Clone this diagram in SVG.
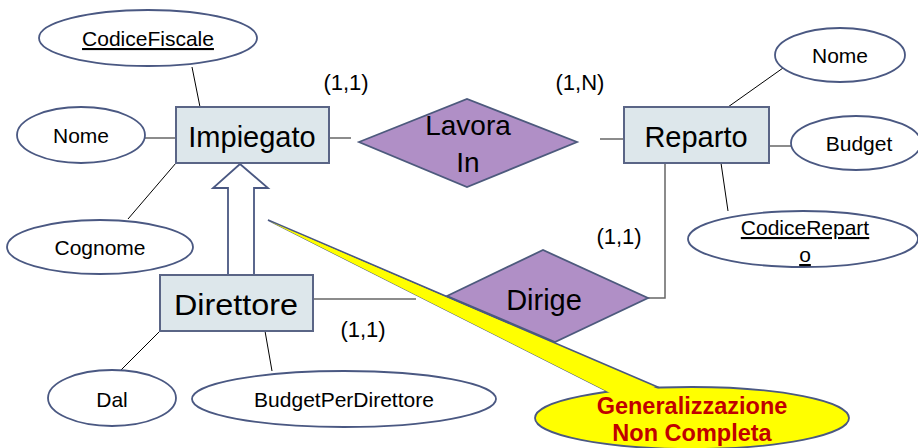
<svg xmlns="http://www.w3.org/2000/svg" width="918" height="448" viewBox="0 0 918 448">
<style>
  .attr { fill: #ffffff; stroke: #4a5882; stroke-width: 1.8; }
  .ent { fill: #dde7eb; stroke: #5a6586; stroke-width: 2; }
  .rel { fill: #b08fc6; stroke: #4d5a7d; stroke-width: 1.8; }
  .t { font-family: "Liberation Sans", Arial, sans-serif; fill: #000; text-anchor: middle; }
  .ta { font-size: 21px; }
  .te { font-size: 29px; }
  .tc { font-size: 22px; }
  .u { text-decoration: underline; }
  .al { stroke: #000; stroke-width: 1; fill: none; }
  .rl { stroke: #666; stroke-width: 1.5; fill: none; }
  .co { fill: #ffff00; stroke: #4a5882; stroke-width: 1.8; }
  .ct { font-family: "Liberation Sans", Arial, sans-serif; font-weight: bold; font-size: 23.5px; fill: #c00000; text-anchor: middle; }
</style>

<g id="connectors">
  <line class="al" x1="192" y1="67" x2="200" y2="107"/>
  <line class="rl" x1="145" y1="138" x2="176" y2="138"/>
  <line class="al" x1="176" y1="163" x2="128" y2="219"/>
  <line class="rl" x1="329" y1="138" x2="351" y2="138"/>
  <line class="rl" x1="600" y1="139" x2="624" y2="139"/>
  <line class="al" x1="783" y1="68" x2="728" y2="107"/>
  <line class="rl" x1="769" y1="146" x2="791" y2="146"/>
  <line class="al" x1="721" y1="163" x2="728" y2="211"/>
  <polyline class="rl" points="665,163 665,298 648,298"/>
  <line class="rl" x1="313" y1="299" x2="416" y2="299"/>
  <line class="al" x1="160" y1="331" x2="120" y2="371"/>
  <line class="al" x1="265" y1="331" x2="272" y2="371"/>
</g>

<g id="CodiceFiscale">
  <ellipse class="attr" cx="148" cy="38" rx="109" ry="28"/>
  <text class="t ta u" x="148" y="46">CodiceFiscale</text>
</g>
<g id="NomeImp">
  <ellipse class="attr" cx="81" cy="135" rx="64" ry="28"/>
  <text class="t ta" x="81" y="143">Nome</text>
</g>
<g id="Cognome">
  <ellipse class="attr" cx="100" cy="247" rx="93" ry="27"/>
  <text class="t ta" x="100" y="255">Cognome</text>
</g>

<g id="Generalizzazione">
  <polygon fill="#ffffff" stroke="#4a5882" stroke-width="1.8" points="240,164 268,188 254,188 254,275 228,275 228,188 213,188"/>
</g>

<g id="Impiegato">
  <rect class="ent" x="176" y="107" width="153" height="56"/>
  <text class="t te" x="252" y="147">Impiegato</text>
</g>

<g id="LavoraIn">
  <polygon class="rel" points="359,142 467,99 577,142 467,187"/>
  <text class="t" font-size="28" x="468" y="135">Lavora</text>
  <text class="t" font-size="28" x="468" y="172">In</text>
</g>

<g id="Reparto">
  <rect class="ent" x="624" y="107" width="145" height="56"/>
  <text class="t te" x="696" y="147">Reparto</text>
</g>

<g id="NomeRep">
  <ellipse class="attr" cx="840" cy="55" rx="65" ry="27"/>
  <text class="t ta" x="840" y="63">Nome</text>
</g>
<g id="Budget">
  <ellipse class="attr" cx="856" cy="143" rx="65" ry="27"/>
  <text class="t ta" x="859" y="151">Budget</text>
</g>
<g id="CodiceReparto">
  <ellipse class="attr" cx="803" cy="239" rx="115" ry="28"/>
  <text class="t ta u" x="805" y="235">CodiceRepart</text>
  <text class="t ta u" x="805" y="262">o</text>
</g>

<g id="Direttore">
  <rect class="ent" x="160" y="275" width="153" height="56"/>
  <text class="t te" x="236" y="315" textLength="124" lengthAdjust="spacingAndGlyphs">Direttore</text>
</g>

<g id="Dirige">
  <polygon class="rel" points="447,296 543,250 648,298 555,342"/>
  <text class="t" font-size="29" x="544" y="310">Dirige</text>
</g>

<g id="Dal">
  <ellipse class="attr" cx="112" cy="398" rx="64" ry="28"/>
  <text class="t ta" x="112" y="407">Dal</text>
</g>
<g id="BudgetPerDirettore">
  <ellipse class="attr" cx="344" cy="399" rx="152" ry="28"/>
  <text class="t ta" x="344" y="407">BudgetPerDirettore</text>
</g>

<g id="cardinalities">
  <text class="t tc" x="346" y="90">(1,1)</text>
  <text class="t tc" x="580" y="90">(1,N)</text>
  <text class="t tc" x="619" y="244">(1,1)</text>
  <text class="t tc" x="363" y="337">(1,1)</text>
</g>

<g id="callout">
  <polygon class="co" points="268,220 625,400 688,400"/>
  <ellipse class="co" cx="692" cy="418" rx="157" ry="31"/>
  <polygon fill="#ffff00" points="270,221.5 626,401 686,401"/>
  <text class="ct" x="692" y="414">Generalizzazione</text>
  <text class="ct" x="692" y="441">Non Completa</text>
</g>
</svg>
